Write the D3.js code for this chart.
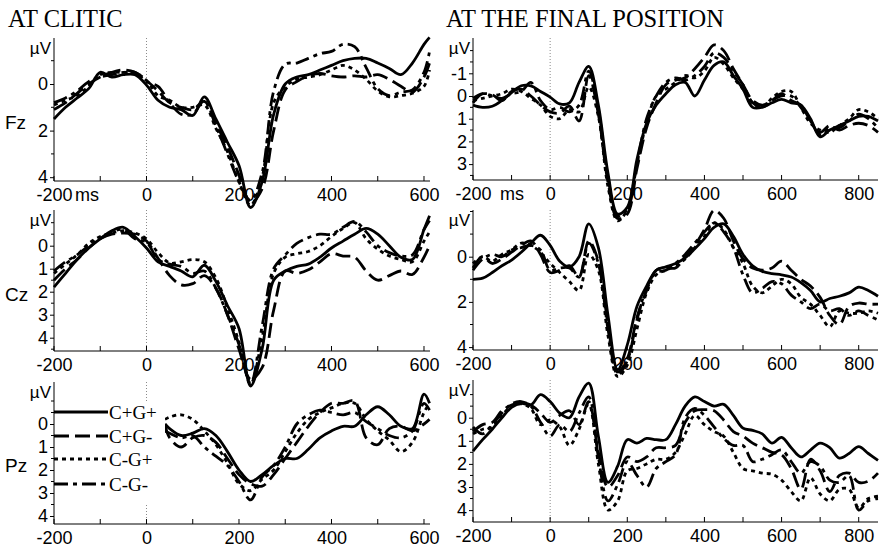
<!DOCTYPE html>
<html>
<head>
<meta charset="utf-8">
<script src="https://cdn.jsdelivr.net/npm/d3@7"></script>
<style>
	body { margin: 0; background: #fff; }
	svg text { fill: #000; }
</style>
</head>
<body>
<div id="chart"></div>
<script>
// conditions, in legend order
var conditions = ["C+G+", "C+G-", "C-G+", "C-G-"];

// time points (ms)
var timesClitic = [-200, -175, -150, -125, -100, -75, -50, -25, 0, 25, 50, 75, 100, 125, 150, 175, 200, 225, 250, 275, 300, 325, 350, 375, 400, 425, 450, 475, 500, 525, 550, 575, 600, 612];
var timesCliticPz = [40, 50, 75, 100, 125, 150, 175, 200, 225, 250, 275, 300, 325, 350, 375, 400, 425, 450, 475, 500, 525, 550, 575, 600, 612];
var timesFinal = [-200, -175, -150, -125, -100, -75, -50, -25, 0, 25, 50, 75, 100, 125, 150, 175, 200, 225, 250, 275, 300, 325, 350, 375, 400, 425, 450, 475, 500, 525, 550, 575, 600, 625, 650, 675, 700, 725, 750, 775, 800, 825, 850];

// tick labels
var ticksClitic = [-200, 0, 200, 400, 600];
var ticksFinal = [-200, 0, 200, 400, 600, 800];

// AT CLITIC, Fz (uV, negative up)
var fzClitic_CpGp = [1.5, 1.0, 0.6, 0.2, -0.5, -0.3, -0.4, -0.4, 0.05, 0.7, 1.0, 1.1, 1.35, 0.55, 1.5, 2.5, 3.5, 5.3, 4.2, 1.3, 0.0, -0.3, -0.4, -0.6, -0.8, -1.0, -1.1, -1.1, -0.9, -0.67, -0.4, -0.9, -1.7, -2.0];
var fzClitic_CpGm = [1.1, 0.8, 0.4, 0.0, -0.3, -0.5, -0.6, -0.5, -0.15, 0.3, 0.8, 1.0, 1.1, 0.75, 1.7, 2.7, 3.9, 5.1, 4.5, 2.0, 0.25, -0.1, -0.35, -0.45, -0.35, -0.3, -0.35, -0.3, -0.4, -0.2, 0.1, 0.35, -0.3, -0.9];
var fzClitic_CmGp = [0.9, 0.7, 0.5, 0.1, -0.4, -0.5, -0.5, -0.5, -0.15, 0.5, 0.7, 1.0, 1.0, 0.9, 1.9, 2.9, 4.2, 5.2, 4.0, 0.8, 0.1, -0.2, -0.3, -0.4, -0.6, -0.8, -0.6, -0.2, 0.3, 0.55, 0.5, 0.4, 0.1, -0.6];
var fzClitic_CmGm = [0.8, 0.6, 0.3, -0.1, -0.3, -0.4, -0.5, -0.5, -0.1, 0.1, 0.8, 1.3, 1.3, 0.7, 1.8, 3.0, 4.2, 5.0, 3.8, 0.3, -0.85, -0.9, -1.1, -1.3, -1.4, -1.7, -1.6, -0.7, 0.2, 0.5, 0.35, 0.25, -0.5, -1.4];

// AT CLITIC, Cz
var czClitic_CpGp = [1.8, 1.2, 0.6, 0.1, -0.3, -0.65, -0.8, -0.4, 0.1, 0.7, 0.9, 1.1, 1.35, 0.85, 1.55, 2.6, 3.6, 6.1, 4.5, 1.5, 1.1, 0.9, 0.8, 0.5, 0.1, -0.2, -0.5, -0.75, -0.5, 0.0, 0.5, 0.6, -0.7, -1.3];
var czClitic_CpGm = [1.5, 1.0, 0.6, 0.1, -0.3, -0.5, -0.55, -0.5, -0.2, 0.55, 1.3, 1.7, 1.65, 1.3, 1.85, 3.0, 4.5, 5.8, 5.3, 2.8, 1.1, 1.2, 1.05, 0.7, 0.35, 0.45, 0.5, 1.1, 1.5, 1.3, 1.1, 1.25, 0.5, 0.0];
var czClitic_CmGp = [1.2, 0.8, 0.4, -0.1, -0.4, -0.55, -0.65, -0.55, -0.3, 0.3, 0.75, 0.7, 0.6, 0.7, 1.4, 2.7, 4.2, 6.0, 4.0, 1.2, 0.5, 0.35, 0.25, 0.0, -0.4, -0.75, -1.0, -0.3, 0.15, 0.45, 0.6, 0.7, -0.2, -0.6];
var czClitic_CmGm = [1.1, 0.7, 0.4, 0.0, -0.3, -0.6, -0.7, -0.3, -0.15, 0.6, 0.8, 0.9, 1.2, 1.1, 1.85, 3.0, 4.3, 6.0, 3.5, 1.0, 0.4, -0.1, -0.35, -0.5, -0.5, -0.8, -1.05, -0.6, 0.0, 0.3, 0.45, 0.4, -0.7, -1.1];

// AT CLITIC, Pz (start hidden by the legend)
var pzClitic_CpGp = [0.0, 0.2, 0.5, 0.4, 0.2, 0.5, 1.2, 2.0, 2.5, 2.2, 1.8, 1.5, 1.5, 1.1, 0.6, 0.3, 0.1, 0.1, -0.4, -0.75, -0.4, 0.1, 0.2, -1.3, -0.9];
var pzClitic_CpGm = [0.0, 0.6, 1.0, 0.6, 0.5, 0.8, 1.5, 2.2, 2.6, 2.7, 2.2, 1.5, 0.8, 0.1, -0.5, -0.9, -0.9, -1.0, 0.6, 0.9, 0.2, 0.1, 0.3, 0.0, -0.2];
var pzClitic_CmGp = [-0.2, -0.3, -0.4, -0.2, 0.3, 0.9, 1.7, 2.6, 2.9, 2.4, 2.0, 1.2, 0.4, -0.2, -0.5, -0.7, -0.9, -0.9, -0.2, 0.3, 0.7, 1.2, 0.8, -0.5, -0.9];
var pzClitic_CmGm = [0.3, 0.4, 0.6, 0.5, 1.0, 1.4, 1.8, 2.5, 3.3, 2.3, 1.8, 1.0, 0.0, -0.4, -0.6, -0.5, -0.4, -0.5, -0.1, 0.2, 0.5, 0.6, 0.3, -0.9, -0.6];

// AT THE FINAL POSITION, Fz
var fzFinal_CpGp = [0.4, 0.5, 0.45, 0.2, -0.15, -0.45, -0.45, -0.2, 0.05, 0.35, 0.3, -0.6, -1.3, 0.4, 3.4, 5.2, 4.9, 2.8, 1.2, 0.4, -0.1, -0.5, -0.6, 0.0, -0.7, -1.35, -1.5, -0.9, -0.3, 0.5, 0.5, 0.3, 0.15, 0.3, 0.4, 1.0, 1.8, 1.5, 1.3, 1.1, 0.9, 0.9, 1.1];
var fzFinal_CpGm = [0.1, -0.1, -0.05, 0.2, -0.2, -0.3, 0.0, 0.4, 0.7, 0.75, 0.45, 1.1, -0.9, 0.8, 3.8, 5.4, 5.2, 3.2, 1.4, 0.3, -0.5, -0.7, -0.8, -1.2, -1.7, -2.25, -2.0, -1.2, -0.5, 0.2, 0.4, 0.2, -0.1, 0.2, 0.4, 1.1, 1.6, 1.3, 1.5, 1.3, 1.2, 1.3, 1.6];
var fzFinal_CmGp = [0.2, 0.1, 0.0, -0.1, -0.3, -0.2, 0.1, 0.4, 0.9, 1.0, 0.6, 0.7, -0.4, 0.9, 4.0, 5.5, 5.0, 3.0, 1.2, 0.0, -0.3, -0.6, -0.9, -0.8, -1.1, -1.7, -1.4, -0.8, -0.3, 0.3, 0.5, 0.1, -0.2, -0.2, 0.5, 1.2, 1.5, 1.6, 1.3, 1.0, 0.6, 0.7, 1.0];
var fzFinal_CmGm = [0.3, -0.1, 0.0, 0.1, -0.1, -0.2, -0.6, 0.2, 0.6, 0.5, 0.7, 0.4, -1.1, 0.6, 3.6, 5.3, 5.0, 3.0, 1.0, 0.0, -0.6, -0.8, -0.7, -0.9, -1.3, -1.9, -1.7, -1.1, -0.5, 0.3, 0.5, 0.2, 0.0, 0.0, 0.5, 1.1, 1.7, 1.4, 1.4, 1.1, 0.8, 1.0, 1.4];

// AT THE FINAL POSITION, Cz
var czFinal_CpGp = [1.0, 0.95, 0.7, 0.4, 0.15, -0.2, -0.6, -0.95, -0.5, 0.2, 0.45, 0.0, -1.45, -0.4, 2.6, 5.0, 3.9, 2.2, 1.3, 0.6, 0.45, 0.3, 0.05, -0.35, -0.8, -1.3, -1.45, -0.9, -0.1, 0.4, 0.65, 0.75, 0.8, 0.9, 1.15, 1.5, 2.0, 1.85, 1.75, 1.6, 1.35, 1.5, 1.75];
var czFinal_CpGm = [0.5, 0.0, 0.3, 0.1, -0.2, -0.5, -0.7, -0.1, 0.7, 0.6, 0.4, 0.9, -0.7, 0.2, 3.0, 5.1, 4.5, 2.7, 1.5, 0.6, 0.5, 0.5, 0.0, -0.5, -1.2, -2.05, -1.7, -0.7, 0.1, 0.5, 0.6, 0.5, 0.2, 0.6, 1.0, 1.3, 1.8, 2.6, 3.0, 2.2, 2.05, 2.1, 2.1];
var czFinal_CmGp = [0.3, 0.0, 0.2, -0.1, -0.3, -0.6, -0.5, -0.2, 0.3, 0.7, 1.1, 1.5, -0.1, 0.6, 3.5, 5.3, 4.8, 3.2, 1.6, 0.8, 0.6, 0.4, 0.1, -0.4, -0.9, -1.5, -1.2, -0.4, 0.3, 1.3, 1.6, 1.3, 1.0, 1.2, 1.8, 2.1, 2.6, 3.1, 2.4, 2.5, 2.5, 2.4, 2.5];
var czFinal_CmGm = [0.6, 0.1, -0.1, 0.0, -0.3, -0.4, -0.5, -0.3, 0.6, 0.5, 0.5, 0.9, -0.6, 0.3, 3.2, 5.2, 4.6, 2.8, 1.4, 0.7, 0.6, 0.3, -0.1, -0.6, -1.1, -1.5, -1.1, -0.4, 0.8, 1.6, 1.4, 1.1, 1.2, 1.7, 2.0, 2.3, 2.1, 2.4, 2.3, 2.6, 2.4, 2.6, 2.8];

// AT THE FINAL POSITION, Pz
var pzFinal_CpGp = [1.45, 0.95, 0.5, 0.0, -0.45, -0.62, -0.55, -1.0, -0.7, -0.2, 0.0, -0.9, -1.5, 0.8, 2.8, 2.1, 0.95, 1.1, 0.9, 0.95, 0.95, 0.3, -0.5, -0.9, -0.7, -0.5, -0.58, -0.1, 0.45, 0.55, 0.7, 1.1, 0.85, 1.3, 1.7, 1.4, 1.1, 1.3, 1.75, 1.55, 1.25, 1.55, 1.85];
var pzFinal_CpGm = [0.6, 0.3, 0.2, -0.3, -0.55, -0.65, -0.55, -0.2, 0.2, -0.1, -0.3, 0.3, -0.7, 1.5, 3.0, 2.5, 1.7, 1.9, 1.7, 1.3, 1.3, 1.2, 0.2, -0.3, -0.35, -0.3, 0.1, 0.6, 0.8, 1.1, 1.3, 1.5, 1.6, 2.2, 3.1, 1.8, 2.3, 3.2, 2.5, 2.4, 2.8, 2.75, 2.4];
var pzFinal_CmGp = [0.7, 0.5, 0.4, -0.1, -0.5, -0.6, -0.4, 0.3, 0.1, 0.4, 1.2, 0.5, -0.6, 2.0, 4.0, 3.6, 2.3, 2.2, 2.0, 1.8, 1.8, 1.5, 0.7, -0.1, 0.3, 0.6, 0.8, 1.5, 2.2, 2.3, 2.4, 2.45, 2.7, 3.2, 3.6, 2.6, 3.3, 3.6, 3.1, 3.1, 3.9, 3.5, 3.4];
var pzFinal_CmGm = [0.4, 0.7, 0.3, -0.2, -0.6, -0.7, -0.5, 0.2, 0.8, 0.3, 0.6, -0.2, -0.9, 1.7, 3.6, 2.9, 1.9, 2.5, 3.0, 2.2, 1.9, 1.6, 0.0, -0.4, -0.1, 0.4, 0.9, 1.2, 1.2, 1.9, 1.8, 1.6, 1.4, 1.9, 2.4, 1.9, 2.1, 2.7, 2.8, 2.5, 4.0, 3.6, 3.5];

// line style per condition: solid, long dash, dots, dash-dot
var dashes = ["", "15,6", "4,4", "14,5,4,5"];

var panels = [
	{ ch: "Fz", chY: 122, left: 54, right: 430, xMax: 613, top: 38, bottom: 181, zero: 84, unit: 23.3,
		yLabels: [0, 2, 4], yMinor: [-1, 1, 3], xTicks: ticksClitic, ms: 21, times: timesClitic,
		data: [fzClitic_CpGp, fzClitic_CpGm, fzClitic_CmGp, fzClitic_CmGm] },
	{ left: 473, right: 878, xMax: 850, top: 38, bottom: 180, zero: 96, unit: 22.7,
		yLabels: [-1, 0, 1, 2, 3], yMinor: [-2, -1.5, -0.5, 0.5, 1.5, 2.5, 3.5], xTicks: ticksFinal, ms: 27, times: timesFinal,
		data: [fzFinal_CpGp, fzFinal_CpGm, fzFinal_CmGp, fzFinal_CmGm] },
	{ ch: "Cz", chY: 294, left: 54, right: 430, xMax: 613, top: 210, bottom: 351, zero: 245.7, unit: 23,
		yLabels: [0, 1, 2, 3, 4], yMinor: [-1, -0.5, 0.5, 1.5, 2.5, 3.5, 4.5], xTicks: ticksClitic, times: timesClitic,
		data: [czClitic_CpGp, czClitic_CpGm, czClitic_CmGp, czClitic_CmGm] },
	{ left: 473, right: 878, xMax: 850, top: 210, bottom: 350, zero: 256.7, unit: 22.6,
		yLabels: [0, 2, 4], yMinor: [-2, -1, 1, 3], xTicks: ticksFinal, times: timesFinal,
		data: [czFinal_CpGp, czFinal_CpGm, czFinal_CmGp, czFinal_CmGm] },
	{ ch: "Pz", chY: 465, left: 54, right: 430, xMax: 613, top: 382, bottom: 524, zero: 424, unit: 23,
		yLabels: [0, 1, 2, 3, 4], yMinor: [-1, -0.5, 0.5, 1.5, 2.5, 3.5], xTicks: ticksClitic, times: timesCliticPz,
		data: [pzClitic_CpGp, pzClitic_CpGm, pzClitic_CmGp, pzClitic_CmGm], legend: true },
	{ left: 473, right: 878, xMax: 850, top: 380, bottom: 522, zero: 417.7, unit: 23.1,
		yLabels: [0, 1, 2, 3, 4], yMinor: [-1, -0.5, 0.5, 1.5, 2.5, 3.5], xTicks: ticksFinal, times: timesFinal,
		data: [pzFinal_CpGp, pzFinal_CpGm, pzFinal_CmGp, pzFinal_CmGm] }
];

var svg = d3.select("#chart").append("svg")
	.attr("width", 879)
	.attr("height", 548)
	.style("display", "block");

svg.append("text").attr("x", 8).attr("y", 27)
	.style("font-family", "'Liberation Serif', 'Times New Roman', serif").style("font-size", "24.5px")
	.text("AT CLITIC");
svg.append("text").attr("x", 446).attr("y", 27)
	.style("font-family", "'Liberation Serif', 'Times New Roman', serif").style("font-size", "24.5px")
	.text("AT THE FINAL POSITION");

// plain hyphen, no decimals
function fmt(d) { return String(d); }

function drawPanel(p) {
	var x = d3.scaleLinear().domain([-200, p.xMax]).range([p.left, p.right]);
	var y = d3.scaleLinear().domain([0, 1]).range([p.zero, p.zero + p.unit]);
	var g = svg.append("g").style("font-family", "'Liberation Sans', Arial, sans-serif");

	// dotted zero line
	g.append("line")
		.attr("x1", x(0)).attr("x2", x(0))
		.attr("y1", p.top).attr("y2", p.bottom)
		.attr("stroke", "#8a8a8a").attr("stroke-width", 1)
		.attr("stroke-dasharray", "1,2");

	// y axis
	var yAxis = d3.axisLeft(y).tickValues(p.yLabels).tickFormat(fmt).tickSize(4).tickPadding(2);
	var ya = g.append("g").attr("transform", "translate(" + p.left + ",0)").call(yAxis);
	ya.select(".domain").remove();
	ya.selectAll("text").style("font-size", "18px");
	g.selectAll(".minor-y")
		.data(p.yMinor)
		.enter().append("line")
		.attr("x1", p.left - 3).attr("x2", p.left)
		.attr("y1", function(d) { return y(d); }).attr("y2", function(d) { return y(d); })
		.attr("stroke", "#000");
	g.append("line")
		.attr("x1", p.left).attr("x2", p.left)
		.attr("y1", p.top).attr("y2", p.bottom)
		.attr("stroke", "#000");
	g.append("text")
		.attr("x", p.left - 3).attr("y", p.top + 16)
		.attr("text-anchor", "end")
		.style("font-size", "17px")
		.text("\u00b5V");

	// x axis, ticks pointing up
	var minorX = d3.range(-200, p.xMax + 1, 100);
	var xAxis = d3.axisBottom(x).tickValues(p.xTicks).tickFormat(fmt).tickSize(0).tickPadding(7);
	var xa = g.append("g").attr("transform", "translate(0," + p.bottom + ")").call(xAxis);
	xa.select(".domain").remove();
	xa.selectAll("text").style("font-size", "18px");
	g.selectAll(".minor-x")
		.data(minorX)
		.enter().append("line")
		.attr("x1", function(d) { return x(d); }).attr("x2", function(d) { return x(d); })
		.attr("y1", p.bottom - 5).attr("y2", p.bottom)
		.attr("stroke", "#000");
	g.append("line")
		.attr("x1", p.left).attr("x2", p.right)
		.attr("y1", p.bottom).attr("y2", p.bottom)
		.attr("stroke", "#000");
	if (p.ms) {
		g.append("text")
			.attr("x", p.left + p.ms).attr("y", p.bottom + 20)
			.style("font-size", "18px")
			.text("ms");
	}

	if (p.ch) {
		g.append("text")
			.attr("x", 5).attr("y", p.chY).attr("dy", "0.35em")
			.style("font-size", "19px")
			.text(p.ch);
	}

	// waveforms
	var line = d3.line()
		.defined(function(d) { return d[1] != null; })
		.x(function(d) { return x(d[0]); })
		.y(function(d) { return y(d[1]); })
		.curve(d3.curveCatmullRom.alpha(0.5));

	var i;
	for (i = p.data.length - 1; i >= 0; i--) {
		var pts = p.times.map(function(t, j) { return [t, p.data[i][j]]; });
		g.append("path")
			.datum(pts)
			.attr("d", line)
			.attr("fill", "none")
			.attr("stroke", "#000")
			.attr("stroke-width", 2.8)
			.attr("stroke-dasharray", dashes[i]);
	}

	if (p.legend) {
		// white box hides the zero line behind the legend
		g.append("rect")
			.attr("x", p.left + 1).attr("y", 403)
			.attr("width", 110).attr("height", 100)
			.attr("fill", "#fff");
		var lg = g.selectAll(".legend")
			.data(conditions)
			.enter().append("g")
			.attr("transform", function(d, k) { return "translate(0," + [412, 436, 459, 484][k] + ")"; });
		lg.append("line")
			.attr("x1", p.left).attr("x2", 108)
			.attr("stroke", "#000").attr("stroke-width", 3)
			.attr("stroke-dasharray", function(d, k) { return dashes[k]; });
		lg.append("text")
			.attr("x", 109).attr("dy", "0.35em")
			.style("font-family", "'Liberation Serif', 'Times New Roman', serif")
			.style("font-size", "19px")
			.text(function(d) { return d; });
	}
}

panels.forEach(drawPanel);
</script>
</body>
</html>
